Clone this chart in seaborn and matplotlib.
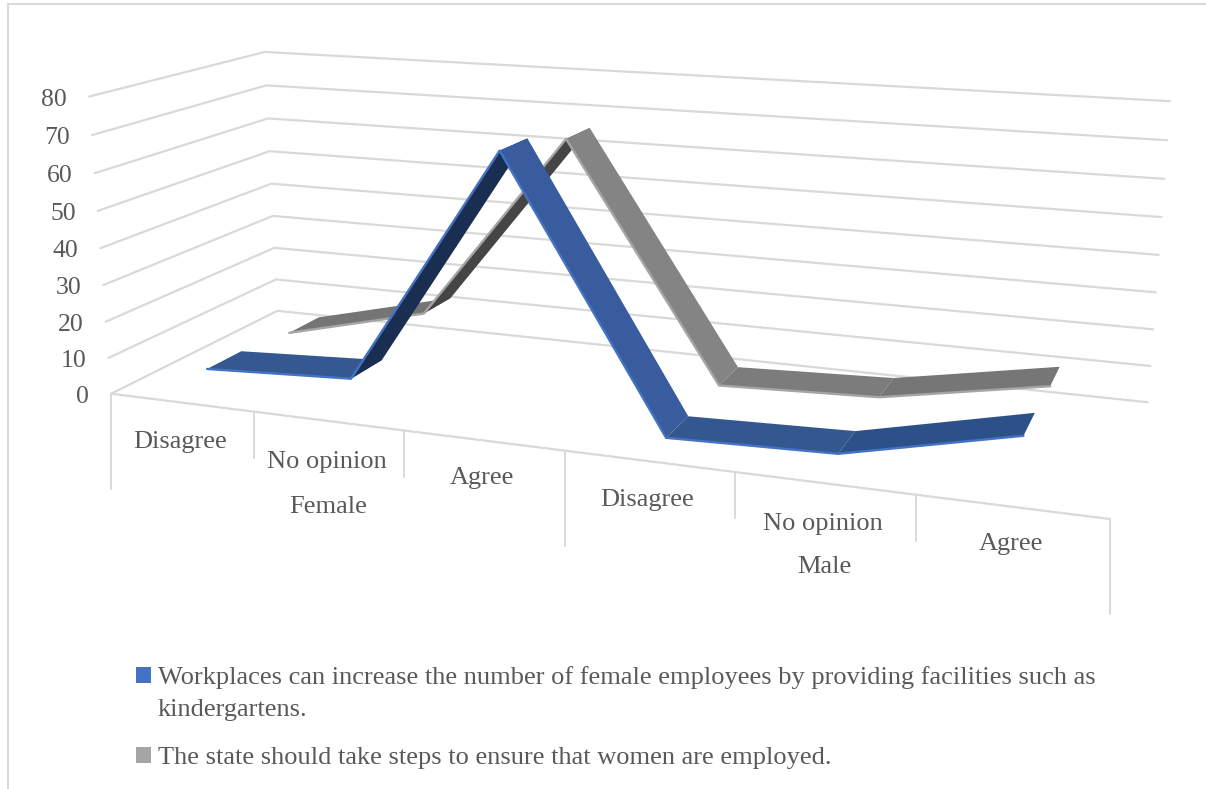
"""
Recreates a 3D line chart (two ribbons on a perspective floor) with seaborn.
The perspective scale is fitted from the wall and floor corners of the reference.
"""

import numpy as np
import pandas as pd
import matplotlib
matplotlib.use("Agg")
import matplotlib.pyplot as plt
import seaborn as sns

# Chart data
answers = ["Disagree", "No opinion", "Agree", "Disagree", "No opinion", "Agree"]
groups = ["Female", "Male"]
workplaces_values = [5.4, 7.4, 70.7, 1.6, 2.8, 12.6]
state_values = [3.5, 13.5, 66.0, 1.9, 3.5, 11.3]
value_ticks = [0, 10, 20, 30, 40, 50, 60, 70, 80]
legend_labels = [
    "Workplaces can increase the number of female employees by providing facilities such as\nkindergartens.",
    "The state should take steps to ensure that women are employed.",
]

# Perspective scale: (category, depth, value) -> pixel
calib = [
    (0, 0, 0, 111, 393), (0, 0, 20, 106, 322), (0, 0, 40, 100, 248), (0, 0, 60, 95, 173), (0, 0, 80, 89, 97),
    (0, 1, 0, 277, 311), (0, 1, 20, 275, 248), (0, 1, 40, 271, 184), (0, 1, 60, 268, 118), (0, 1, 80, 265, 52),
    (6, 1, 80, 1170, 101), (6, 1, 10, 1150, 366), (6, 1, 0, 1148, 402), (6, 0, 0, 1110, 519),
    (1, 0, 0, 254, 411), (2, 0, 0, 404, 431), (3, 0, 0, 565, 451), (4, 0, 0, 735, 472), (5, 0, 0, 916, 495),
]
A, b = [], []
for u, d, v, px, py in calib:
    A.append([u, d, v, 1, 0, 0, 0, 0, -px * u, -px * d, -px * v])
    b.append(px)
    A.append([0, 0, 0, 0, u, d, v, 1, -py * u, -py * d, -py * v])
    b.append(py)
P = np.append(np.linalg.lstsq(np.array(A, float), np.array(b, float), rcond=None)[0], 1).reshape(3, 4)


def proj(u, d, v):
    w = P @ np.array([u, d, v, 1.0])
    return w[0] / w[2], w[1] / w[2]


sns.set_theme(style="white")
plt.rcParams["font.family"] = ["Liberation Serif", "DejaVu Serif"]

fig = plt.figure(figsize=(12.06, 7.89), dpi=100)
ax = fig.add_axes([0, 0, 1, 1])
ax.set_xlim(0, 1206)
ax.set_ylim(789, 0)
ax.axis("off")

GRID = "#D9D9D9"
TEXT = "#595959"


def draw_line(xs, ys, color, lw=1.6, zorder=1):
    df = pd.DataFrame({"x": xs, "y": ys})
    sns.lineplot(data=df, x="x", y="y", color=color, linewidth=lw, sort=False,
                 estimator=None, ax=ax, zorder=zorder, legend=False)


# Frame of the chart area
draw_line([1206, 8, 8], [4, 4, 789], GRID, lw=1.5)

# Walls and floor
for val in value_ticks:
    pts = [proj(0, 0, val), proj(0, 1, val), proj(6, 1, val)]
    draw_line([p[0] for p in pts], [p[1] for p in pts], GRID, lw=1.6)
pts = [proj(0, 0, 0), proj(6, 0, 0)]
draw_line([p[0] for p in pts], [p[1] for p in pts], GRID, lw=1.6)

# Category dividers under the front edge, longer at the group boundaries
for i in range(7):
    x0, y0 = proj(i, 0, 0)
    length = 95 if i in (0, 3, 6) else 46
    draw_line([x0, x0], [y0, y0 + length], GRID, lw=1.4)

# Ribbons, back series first
ribbons = [
    (state_values, 0.65, 0.85, ["#757575", "#454545", "#848484", "#7C7C7C", "#767676"], "#A5A5A5", 3),
    (workplaces_values, 0.15, 0.35, ["#34588F", "#1A2E52", "#385C9D", "#33578F", "#2C5189"], "#4472C4", 5),
]
for values, d_front, d_back, shades, edge, z in ribbons:
    for i in range(len(values) - 1):
        u0, u1 = i + 0.5, i + 1.5
        poly = [proj(u0, d_front, values[i]), proj(u1, d_front, values[i + 1]),
                proj(u1, d_back, values[i + 1]), proj(u0, d_back, values[i])]
        # first flat < rising underside < falling part
        order = z if i == 0 else (z + 0.2 if i == 1 else z + 0.5)
        ax.fill([p[0] for p in poly], [p[1] for p in poly], color=shades[i], lw=0, zorder=order)
    front = [proj(i + 0.5, d_front, val) for i, val in enumerate(values)]
    draw_line([p[0] for p in front], [p[1] for p in front], edge, lw=1.7, zorder=z + 0.6)

# Value labels
for val in value_ticks:
    x0, y0 = proj(0, 0, val)
    ax.text(x0 - 22, y0 + 3, str(val), ha="right", va="center", fontsize=18.5, color=TEXT)

# Category labels
label_offsets = [41, 43, 40, 41, 43, 39]
for i, name in enumerate(answers):
    x0, y0 = proj(i + 0.5, 0, 0)
    ax.text(x0 - 1, y0 + label_offsets[i] - 2, name, ha="center", va="center", fontsize=19, color=TEXT)
for j, name in enumerate(groups):
    x0, y0 = proj(1.5 + 3 * j, 0, 0)
    ax.text(x0 + 0, y0 + (86 if j == 0 else 84), name, ha="center", va="center", fontsize=19, color=TEXT)

# Legend
ax.add_patch(plt.Rectangle((136, 667), 15, 16, color="#4472C4", lw=0))
ax.add_patch(plt.Rectangle((136, 747), 15, 16, color="#A5A5A5", lw=0))
ax.text(158, 678, legend_labels[0].split("\n")[0], ha="left", va="center", fontsize=19, color=TEXT)
ax.text(158, 710, legend_labels[0].split("\n")[1], ha="left", va="center", fontsize=19, color=TEXT)
ax.text(158, 758, legend_labels[1], ha="left", va="center", fontsize=19, color=TEXT)

fig.savefig("out.png", dpi=100)
plt.close(fig)
